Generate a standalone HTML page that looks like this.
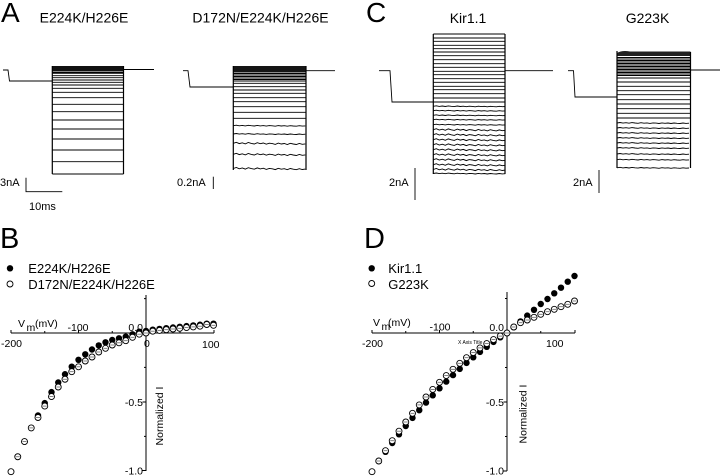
<!DOCTYPE html>
<html><head><meta charset="utf-8"><style>
html,body{margin:0;padding:0;background:#fff;}
svg{display:block;font-family:"Liberation Sans",Arial,sans-serif;}
.t{fill:none;stroke:#000;stroke-width:0.9;}
.tk{font-size:10.5px;fill:#000;}
</style></head><body>
<svg width="720" height="476" viewBox="0 0 720 476" xmlns="http://www.w3.org/2000/svg">
<defs>
<path id="w1" d="M0,0 l3,-0.5 l3,0.6 l3,-0.4 l3,0.5 l3,-0.6 l3,0.4 l3,0.3 l3,-0.6 l3,0.5 l3,-0.3 l3,0.5 l3,-0.5 l3,0.2 l3,0.4 l3,-0.6 l3,0.4 l3,-0.3 l3,0.5 l3,-0.5 l3,0.3 l3,0.2 l3,-0.5 l3,0.4 l3,-0.2" fill="none" stroke="#000" stroke-width="0.9"/>
<path id="w2" d="M0,0 l3,-1 l3,1.3 l3,-0.8 l3,1.1 l3,-1.4 l3,0.9 l3,0.6 l3,-1.3 l3,1 l3,-0.7 l3,1.2 l3,-1 l3,0.4 l3,0.8 l3,-1.3 l3,0.9 l3,-0.5 l3,1 l3,-1.2 l3,0.7 l3,0.5 l3,-1 l3,0.8 l3,-0.4" fill="none" stroke="#000" stroke-width="0.9"/>
<circle id="f" r="3.2" fill="#000"/>
<g id="o"><circle r="3" fill="#fff" stroke="#000" stroke-width="0.9"/><line x1="-2" x2="2" y1="0" y2="0" stroke="#666" stroke-width="0.8"/></g>
<circle id="ol" r="3" fill="#fff" stroke="#000" stroke-width="0.9"/>
</defs>

<!-- Panel letters & titles -->
<text x="1" y="22" font-size="28">A</text>
<text x="366" y="22" font-size="28">C</text>
<text x="0" y="248" font-size="29">B</text>
<text x="364" y="248" font-size="29">D</text>
<text x="84" y="22.5" font-size="14" text-anchor="middle">E224K/H226E</text>
<text x="260.5" y="22.5" font-size="14" text-anchor="middle">D172N/E224K/H226E</text>
<text x="468" y="23" font-size="14" text-anchor="middle">Kir1.1</text>
<text x="647.5" y="23" font-size="14" text-anchor="middle">G223K</text>

<!-- ===== Panel A left ===== -->
<path class="t" stroke-width="1.2" d="M3,70H8L9.5,81H52.3"/>
<path class="t" d="M123.5,69.5H154"/>
<rect x="52.3" y="66" width="71.2" height="5.5" fill="#111"/>
<g class="t">
<path d="M52.3,72.5H123.5M52.3,73.3H123.5M52.3,75.7H123.5M52.3,77.7H123.5M52.3,80H123.5M52.3,82.3H123.5M52.3,85H123.5M52.3,88.3H123.5M52.3,92.3H123.5M52.3,97.7H123.5M52.3,104.3H123.5M52.3,111.7H123.5M52.3,120H123.5M52.3,129H123.5M52.3,139H123.5M52.3,150H123.5M52.3,161.7H123.5M52.3,174H123.5"/>
<path stroke-width="1.2" d="M52.3,66V174M123.5,66V174"/>
</g>
<!-- scale bars A -->
<text x="0" y="186" font-size="11">3nA</text>
<path class="t" d="M26,177.7V191.7H62.3"/>
<text x="29" y="210" font-size="11">10ms</text>

<!-- ===== Panel A right ===== -->
<path class="t" stroke-width="2" d="M183,70.7H188L190,87H233.3"/>
<path class="t" stroke-width="1.2" d="M306,70.7H335"/>
<rect x="233.3" y="66" width="72.7" height="6.5" fill="#151515"/>
<g class="t" stroke-width="0.8">
<path d="M233.3,73.5H306M233.3,75H306M233.3,76.5H306M233.3,78H306M233.3,79.5H306M233.3,81H306M233.3,83.3H306M233.3,86.7H306M233.3,90H306M233.3,93.3H306M233.3,97.7H306M233.3,101.7H306M233.3,106.7H306M233.3,112.3H306M233.3,118.3H306"/>
<path stroke-width="1.2" d="M233.3,66V170M306,66V170"/>
</g>
<use href="#w1" x="233.3" y="125.7"/>
<use href="#w1" x="233.3" y="134"/>
<use href="#w2" x="233.3" y="143.3"/>
<use href="#w2" x="233.3" y="154.3"/>
<use href="#w2" x="233.3" y="168.5"/>
<text x="177" y="186" font-size="11">0.2nA</text>
<path class="t" d="M213.3,176.7V189"/>

<!-- ===== Panel C Kir1.1 ===== -->
<path class="t" stroke-width="1.5" d="M379,70.7H390L392,102H433.3"/>
<path class="t" stroke-width="1.5" d="M505,70.7H553"/>
<g class="t">
<path d="M433.3,34H505M433.3,38H505M433.3,41.3H505M433.3,45.3H505M433.3,48.7H505M433.3,52H505M433.3,55.7H505M433.3,59.7H505M433.3,63.7H505M433.3,67.3H505M433.3,71.3H505M433.3,74.7H505M433.3,78.7H505M433.3,82.3H505M433.3,86.3H505M433.3,89.7H505M433.3,93.7H505M433.3,98H505M433.3,102H505"/>
<path stroke-width="1.2" d="M433.3,34V174M505,34V174"/>
</g>
<use href="#w1" x="433.3" y="106.3"/>
<use href="#w1" x="433.3" y="110.7"/>
<use href="#w1" x="433.3" y="115.3"/>
<use href="#w1" x="433.3" y="119.7"/>
<use href="#w1" x="433.3" y="124.7"/>
<use href="#w2" x="433.3" y="129.7"/>
<use href="#w2" x="433.3" y="134.7"/>
<use href="#w2" x="433.3" y="139.7"/>
<use href="#w2" x="433.3" y="144.7"/>
<use href="#w2" x="433.3" y="149.7"/>
<use href="#w2" x="433.3" y="154.7"/>
<use href="#w2" x="433.3" y="159.7"/>
<use href="#w2" x="433.3" y="164.7"/>
<use href="#w2" x="433.3" y="169.5"/>
<use href="#w1" x="433.3" y="173.5"/>
<text x="389" y="186" font-size="11">2nA</text>
<path class="t" d="M415,168V200"/>

<!-- ===== Panel C G223K ===== -->
<path class="t" stroke-width="1.5" d="M568,70.7H573.5L575,97H617"/>
<path class="t" stroke-width="1.5" d="M690.5,70H720"/>
<path d="M617,53 Q622,50 630,51.5 H690.5 V56 H617Z" fill="#222"/>
<g class="t" stroke-width="0.8">
<path d="M617,57.5H690.5M617,59H690.5M617,60.5H690.5M617,62H690.5M617,63.5H690.5M617,65H690.5M617,66.5H690.5M617,68H690.5M617,69.5H690.5M617,71H690.5M617,72.5H690.5M617,74H690.5M617,75.5H690.5"/>
</g>
<g class="t">
<path d="M617,78H690.5M617,82H690.5M617,86.3H690.5M617,90.7H690.5M617,94.7H690.5M617,99.7H690.5M617,104H690.5M617,108.7H690.5M617,113.3H690.5M617,118H690.5"/>
<path stroke-width="1.2" d="M617,51V168M690.5,52V168"/>
</g>
<use href="#w1" x="617" y="123"/>
<use href="#w1" x="617" y="128"/>
<use href="#w1" x="617" y="133"/>
<use href="#w1" x="617" y="138"/>
<use href="#w1" x="617" y="143"/>
<use href="#w1" x="617" y="148"/>
<use href="#w1" x="617" y="154"/>
<use href="#w1" x="617" y="159.7"/>
<use href="#w1" x="617" y="167.8"/>
<text x="573" y="186" font-size="11">2nA</text>
<path class="t" d="M599,170V193"/>

<!-- ===== Panel B ===== -->
<use href="#f" x="10" y="268.3"/>
<text x="28.3" y="273" font-size="13">E224K/H226E</text>
<use href="#ol" x="10" y="284"/>
<text x="28.3" y="289" font-size="13">D172N/E224K/H226E</text>

<g stroke="#000" stroke-width="1" fill="none">
<path d="M11,333H214"/>
<path d="M11,333V330M44.75,333V331M78.5,333V330M112.25,333V331M180,333V331M214,333V330"/>
<path d="M146,295V471"/>
<path d="M146,298.6H144M146,367.4H144M146,402H142.5M146,436.4H144M146,470.5H142.5"/>
</g>
<text class="tk" x="18" y="327" font-size="11">V</text>
<text class="tk" x="26.5" y="331" font-size="6">m</text>
<text class="tk" x="35" y="327" font-size="11">(mV)</text>
<text class="tk" x="78" y="331" text-anchor="middle">-100</text>
<text class="tk" x="143" y="331" text-anchor="end">0.0</text>
<text class="tk" x="1" y="347">-200</text>
<text class="tk" x="144" y="347">0</text>
<text class="tk" x="202" y="348">100</text>
<text class="tk" x="143" y="406" text-anchor="end">-0.5</text>
<text class="tk" x="143" y="474.5" text-anchor="end">-1.0</text>
<text class="tk" transform="translate(163,416) rotate(-90)" text-anchor="middle">Normalized I</text>

<g>
<use href="#f" x="17.75" y="456.75"/><use href="#f" x="24.5" y="441.6"/><use href="#f" x="31.25" y="427.9"/><use href="#f" x="38" y="415.5"/><use href="#f" x="44.75" y="403.1"/><use href="#f" x="51.5" y="392.1"/><use href="#f" x="58.25" y="382.5"/><use href="#f" x="65" y="374.25"/><use href="#f" x="71.75" y="366.7"/><use href="#f" x="78.5" y="359.8"/><use href="#f" x="85.25" y="354.3"/><use href="#f" x="92" y="349.5"/><use href="#f" x="98.75" y="345.4"/><use href="#f" x="105.5" y="342.3"/><use href="#f" x="112.25" y="340"/><use href="#f" x="119" y="338.3"/><use href="#f" x="125.75" y="336.7"/><use href="#f" x="132.5" y="334.3"/><use href="#f" x="139.25" y="331.7"/><use href="#f" x="146" y="331"/><use href="#f" x="152.75" y="329.7"/><use href="#f" x="159.5" y="328.9"/><use href="#f" x="166.25" y="328.2"/><use href="#f" x="173" y="327.5"/><use href="#f" x="179.75" y="326.8"/><use href="#f" x="186.5" y="326.1"/><use href="#f" x="193.25" y="325.4"/><use href="#f" x="200" y="324.75"/><use href="#f" x="206.75" y="323.65"/><use href="#f" x="213.5" y="323.65"/>
</g>
<g>
<use href="#ol" x="11" y="471.7"/><use href="#o" x="17.75" y="456.75"/><use href="#o" x="24.5" y="441.6"/><use href="#o" x="31.25" y="427.9"/><use href="#o" x="38" y="417.5"/><use href="#o" x="44.75" y="406.1"/><use href="#o" x="51.5" y="396.6"/><use href="#o" x="58.25" y="387"/><use href="#o" x="65" y="379.25"/><use href="#o" x="71.75" y="371.7"/><use href="#o" x="78.5" y="366.8"/><use href="#o" x="85.25" y="361"/><use href="#o" x="92" y="357"/><use href="#o" x="98.75" y="352"/><use href="#o" x="105.5" y="348.3"/><use href="#o" x="112.25" y="345"/><use href="#o" x="119" y="342.8"/><use href="#o" x="125.75" y="340.7"/><use href="#o" x="132.5" y="337.3"/><use href="#o" x="139.25" y="334.2"/><use href="#o" x="146" y="333"/><use href="#o" x="152.75" y="331.2"/><use href="#o" x="159.5" y="330.4"/><use href="#o" x="166.25" y="329.7"/><use href="#o" x="173" y="329"/><use href="#o" x="179.75" y="328.3"/><use href="#o" x="186.5" y="327.6"/><use href="#o" x="193.25" y="326.9"/><use href="#o" x="200" y="326.2"/><use href="#o" x="206.75" y="324.5"/><use href="#o" x="213.5" y="325.3"/>
</g>

<!-- ===== Panel D ===== -->
<use href="#f" x="371.7" y="268.3"/>
<text x="388.3" y="273" font-size="13">Kir1.1</text>
<use href="#ol" x="371.7" y="283.5"/>
<text x="388.3" y="289" font-size="13">G223K</text>

<g stroke="#000" stroke-width="1" fill="none">
<path d="M372,333H575"/>
<path d="M372,333V330M405.75,333V331M439.5,333V330M473.25,333V331M540.75,333V331M575,333V330"/>
<path d="M507,292V471"/>
<path d="M507,298.5H505M507,367.5H505M507,402H503.5M507,436.5H505M507,471H503.5"/>
</g>
<text class="tk" x="373" y="326" font-size="11">V</text>
<text class="tk" x="381.5" y="330" font-size="6">m</text>
<text class="tk" x="388" y="326" font-size="11">(mV)</text>
<text class="tk" x="440" y="330.5" text-anchor="middle">-100</text>
<text class="tk" x="504" y="331" text-anchor="end">0.0</text>
<text class="tk" x="362" y="347">-200</text>
<text class="tk" x="546" y="347">100</text>
<text x="458" y="344" font-size="5" fill="#000">X Axis Title</text>
<text class="tk" x="504" y="406" text-anchor="end">-0.5</text>
<text class="tk" x="504" y="474.5" text-anchor="end">-1.0</text>
<text class="tk" transform="translate(526.5,414) rotate(-90)" text-anchor="middle">Normalized I</text>

<g>
<use href="#f" x="378.75" y="461"/><use href="#f" x="385.5" y="451.8"/><use href="#f" x="392.25" y="443"/><use href="#f" x="399" y="434.3"/><use href="#f" x="405.75" y="426"/><use href="#f" x="412.5" y="417.9"/><use href="#f" x="419.25" y="410.2"/><use href="#f" x="426" y="402.6"/><use href="#f" x="432.75" y="395.3"/><use href="#f" x="439.5" y="388.3"/><use href="#f" x="446.25" y="381.6"/><use href="#f" x="453" y="375.1"/><use href="#f" x="459.75" y="368.9"/><use href="#f" x="466.5" y="362.9"/><use href="#f" x="473.25" y="357.3"/><use href="#f" x="480" y="351.9"/><use href="#f" x="486.75" y="346.8"/><use href="#f" x="493.5" y="341.9"/><use href="#f" x="500.25" y="337.3"/><use href="#f" x="507" y="333"/><use href="#f" x="513.75" y="327.2"/><use href="#f" x="520.5" y="321.4"/><use href="#f" x="527.25" y="315.6"/><use href="#f" x="534" y="309.8"/><use href="#f" x="540.75" y="304"/><use href="#f" x="547.5" y="299"/><use href="#f" x="554.25" y="293.3"/><use href="#f" x="561" y="287.7"/><use href="#f" x="567.75" y="281.7"/><use href="#f" x="574.5" y="276"/>
</g>
<g>
<use href="#ol" x="372" y="471.7"/><use href="#o" x="378.75" y="461"/><use href="#o" x="385.5" y="450.7"/><use href="#o" x="392.25" y="440.7"/><use href="#o" x="399" y="431.2"/><use href="#o" x="405.75" y="422"/><use href="#o" x="412.5" y="413.3"/><use href="#o" x="419.25" y="404.9"/><use href="#o" x="426" y="397"/><use href="#o" x="432.75" y="389.4"/><use href="#o" x="439.5" y="382.3"/><use href="#o" x="446.25" y="375.6"/><use href="#o" x="453" y="369.3"/><use href="#o" x="459.75" y="363.3"/><use href="#o" x="466.5" y="357.7"/><use href="#o" x="473.25" y="352.6"/><use href="#o" x="480" y="347.9"/><use href="#o" x="486.75" y="343.6"/><use href="#o" x="493.5" y="339.6"/><use href="#o" x="500.25" y="336.1"/><use href="#o" x="507" y="333"/><use href="#o" x="513.75" y="327"/><use href="#o" x="520.5" y="322.7"/><use href="#o" x="527.25" y="320"/><use href="#o" x="534" y="317.3"/><use href="#o" x="540.75" y="314.3"/><use href="#o" x="547.5" y="311.7"/><use href="#o" x="554.25" y="309.3"/><use href="#o" x="561" y="306.7"/><use href="#o" x="567.75" y="304.3"/><use href="#o" x="574.5" y="301"/>
</g>
</svg>
</body></html>
